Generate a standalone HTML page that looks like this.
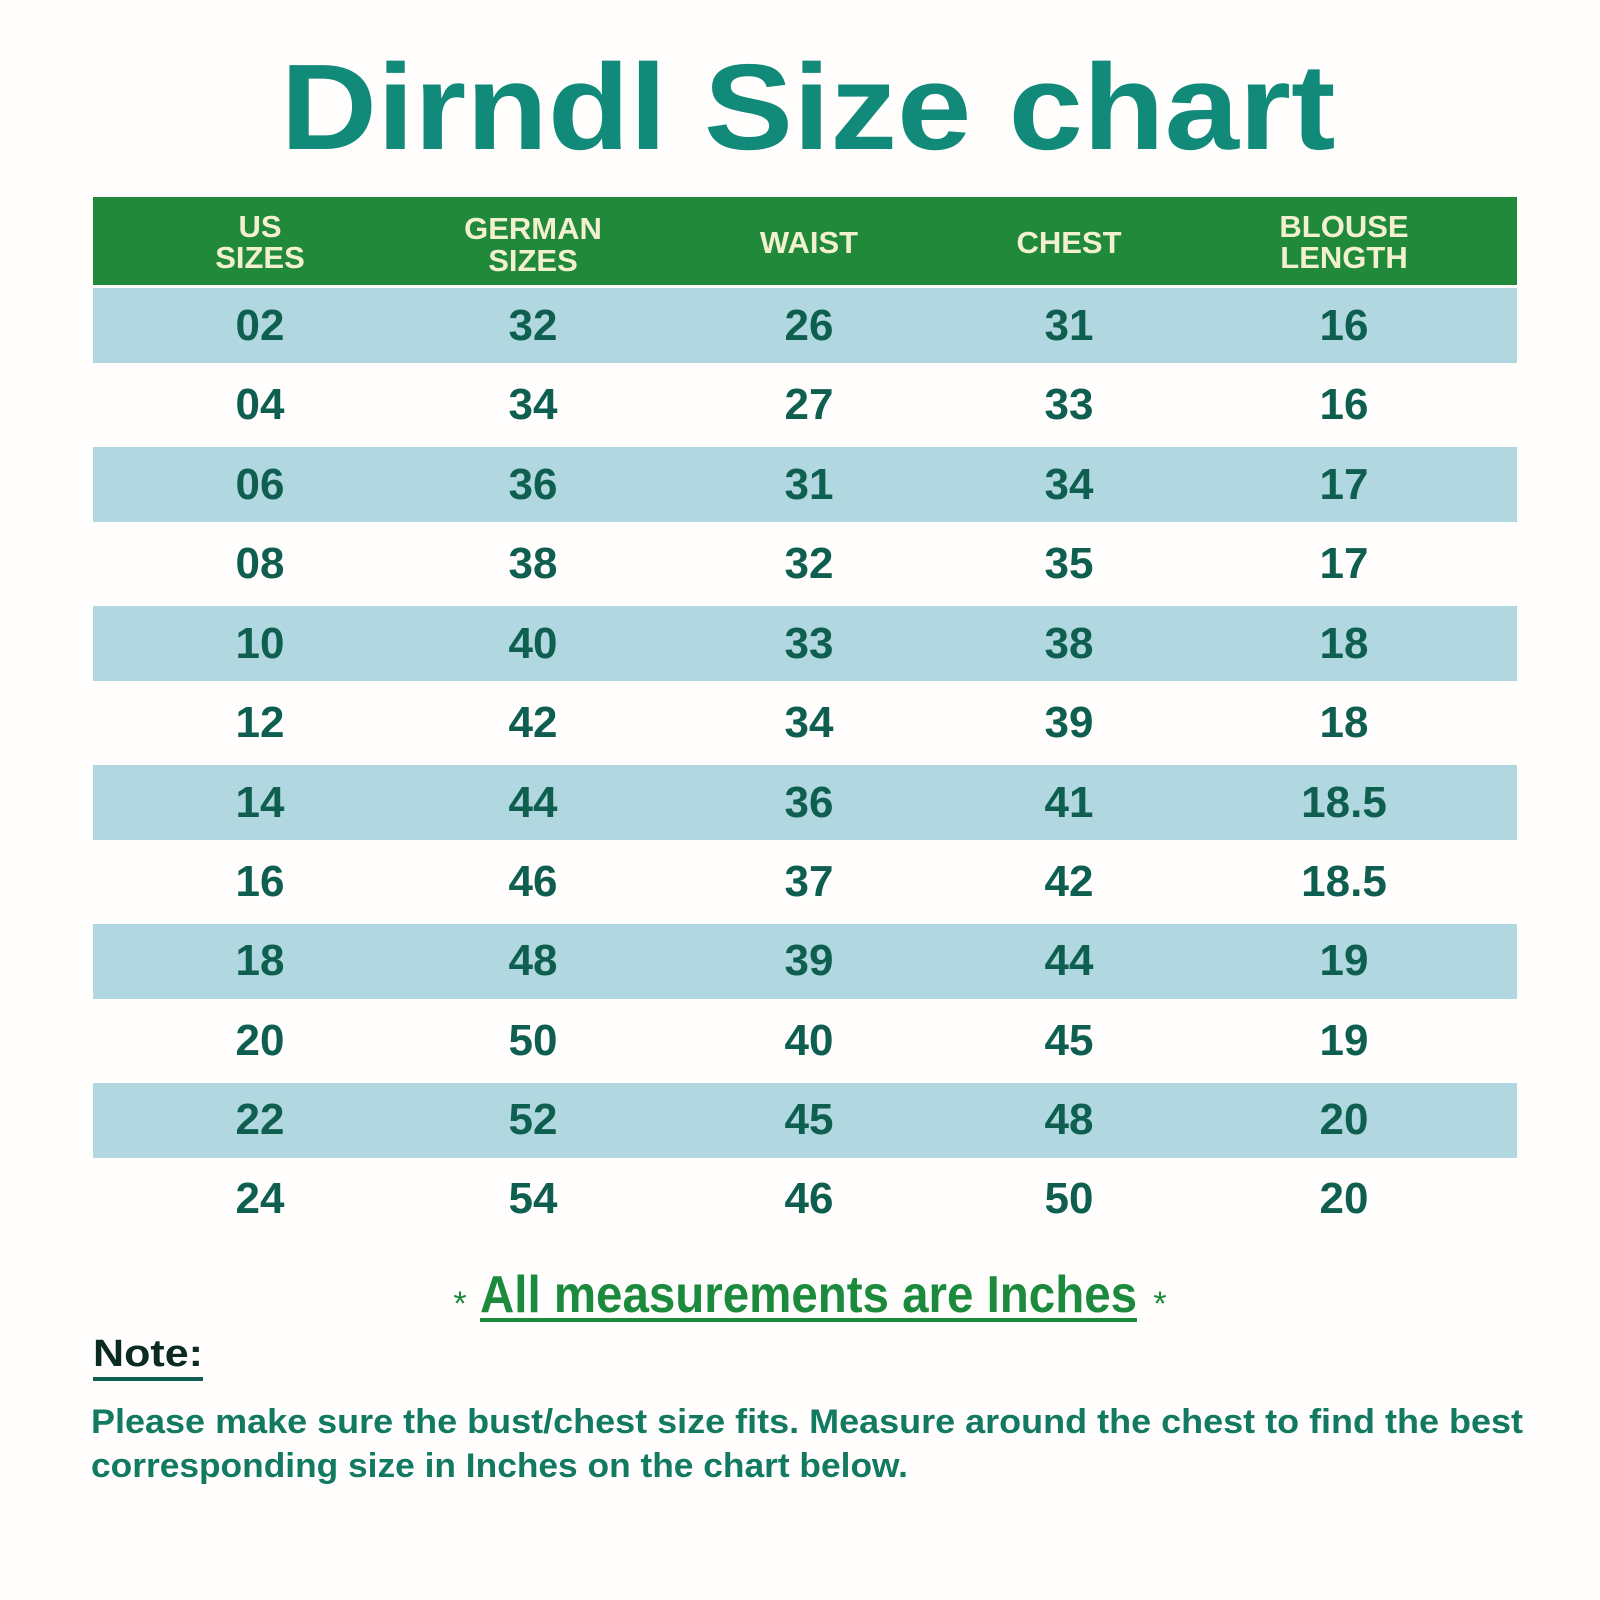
<!DOCTYPE html>
<html><head><meta charset="utf-8"><style>
html,body{margin:0;padding:0;background:#fff;}
svg{display:block;}
</style></head><body>
<svg width="1600" height="1600" viewBox="0 0 1600 1600" xmlns="http://www.w3.org/2000/svg">
<rect width="1600" height="1600" fill="#fffefd"/>
<text x="808" y="149" text-anchor="middle" font-family="Liberation Sans, sans-serif" font-weight="bold" font-size="122" fill="#128a7a" textLength="1055" lengthAdjust="spacingAndGlyphs">Dirndl Size chart</text>
<rect x="93" y="197" width="1424" height="88" fill="#20893a"/>
<g font-family="Liberation Sans, sans-serif" font-weight="bold" font-size="31" fill="#f3f0cf" text-anchor="middle">
<text x="260" y="237">US</text><text x="260" y="268">SIZES</text>
<text x="533" y="239">GERMAN</text><text x="533" y="271">SIZES</text>
<text x="809" y="253">WAIST</text>
<text x="1069" y="253">CHEST</text>
<text x="1344" y="237">BLOUSE</text><text x="1344" y="268">LENGTH</text>
</g>
<g fill="#b1d8e0">
<rect x="93" y="288" width="1424" height="75"/>
<rect x="93" y="447" width="1424" height="75"/>
<rect x="93" y="606" width="1424" height="75"/>
<rect x="93" y="765" width="1424" height="75"/>
<rect x="93" y="924" width="1424" height="75"/>
<rect x="93" y="1083" width="1424" height="75"/>
</g>
<g font-family="Liberation Sans, sans-serif" font-weight="bold" font-size="44" fill="#0f5f50" text-anchor="middle" transform="translate(0,-3)">
<text x="260" y="343">02</text><text x="533" y="343">32</text><text x="809" y="343">26</text><text x="1069" y="343">31</text><text x="1344" y="343">16</text>
<text x="260" y="422">04</text><text x="533" y="422">34</text><text x="809" y="422">27</text><text x="1069" y="422">33</text><text x="1344" y="422">16</text>
<text x="260" y="502">06</text><text x="533" y="502">36</text><text x="809" y="502">31</text><text x="1069" y="502">34</text><text x="1344" y="502">17</text>
<text x="260" y="581">08</text><text x="533" y="581">38</text><text x="809" y="581">32</text><text x="1069" y="581">35</text><text x="1344" y="581">17</text>
<text x="260" y="661">10</text><text x="533" y="661">40</text><text x="809" y="661">33</text><text x="1069" y="661">38</text><text x="1344" y="661">18</text>
<text x="260" y="740">12</text><text x="533" y="740">42</text><text x="809" y="740">34</text><text x="1069" y="740">39</text><text x="1344" y="740">18</text>
<text x="260" y="820">14</text><text x="533" y="820">44</text><text x="809" y="820">36</text><text x="1069" y="820">41</text><text x="1344" y="820">18.5</text>
<text x="260" y="899">16</text><text x="533" y="899">46</text><text x="809" y="899">37</text><text x="1069" y="899">42</text><text x="1344" y="899">18.5</text>
<text x="260" y="978">18</text><text x="533" y="978">48</text><text x="809" y="978">39</text><text x="1069" y="978">44</text><text x="1344" y="978">19</text>
<text x="260" y="1058">20</text><text x="533" y="1058">50</text><text x="809" y="1058">40</text><text x="1069" y="1058">45</text><text x="1344" y="1058">19</text>
<text x="260" y="1137">22</text><text x="533" y="1137">52</text><text x="809" y="1137">45</text><text x="1069" y="1137">48</text><text x="1344" y="1137">20</text>
<text x="260" y="1216">24</text><text x="533" y="1216">54</text><text x="809" y="1216">46</text><text x="1069" y="1216">50</text><text x="1344" y="1216">20</text>
</g>
<text x="460" y="1315" font-family="Liberation Sans, sans-serif" font-size="34" fill="#1a8a3a" text-anchor="middle">*</text>
<text x="1160" y="1315" font-family="Liberation Sans, sans-serif" font-size="34" fill="#1a8a3a" text-anchor="middle">*</text>
<text x="480" y="1312" font-family="Liberation Sans, sans-serif" font-weight="bold" font-size="52" fill="#1c8a3c" textLength="657" lengthAdjust="spacingAndGlyphs">All measurements are Inches</text>
<rect x="480" y="1318" width="657" height="4" fill="#1c8a3c"/>
<text x="93" y="1366" font-family="Liberation Sans, sans-serif" font-weight="bold" font-size="38" fill="#0b2a22" textLength="110" lengthAdjust="spacingAndGlyphs">Note:</text>
<rect x="93" y="1377" width="110" height="4" fill="#0f5f50"/>
<g font-family="Liberation Sans, sans-serif" font-weight="bold" font-size="34" fill="#137a62">
<text x="91" y="1433" textLength="1432" lengthAdjust="spacingAndGlyphs">Please make sure the bust/chest size fits. Measure around the chest to find the best</text>
<text x="91" y="1477" textLength="817" lengthAdjust="spacingAndGlyphs">corresponding size in Inches on the chart below.</text>
</g>
</svg>
</body></html>
